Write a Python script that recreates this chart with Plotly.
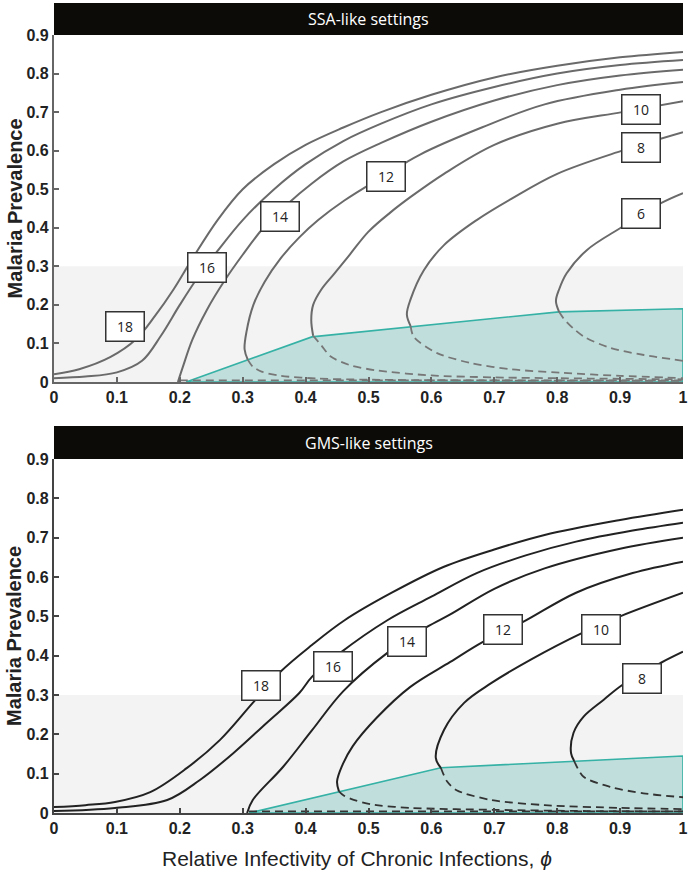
import plotly.graph_objects as go

# ---------------- DATA ----------------
x_ticks = [0, 0.1, 0.2, 0.3, 0.4, 0.5, 0.6, 0.7, 0.8, 0.9, 1]
x_tick_labels = ["0", "0.1", "0.2", "0.3", "0.4", "0.5", "0.6", "0.7", "0.8", "0.9", "1"]
y_ticks = [0, 0.1, 0.2, 0.3, 0.4, 0.5, 0.6, 0.7, 0.8, 0.9]
y_tick_labels = ["0", "0.1", "0.2", "0.3", "0.4", "0.5", "0.6", "0.7", "0.8", "0.9"]

panel_titles = ["SSA-like settings", "GMS-like settings"]
x_title = "Relative Infectivity of Chronic Infections, <i>ϕ</i>"
y_title = "Malaria Prevalence"
band_top = 0.3

# --- SSA-like (top panel) ---
ssa_labels = ["18", "16", "14", "12", "10", "8", "6"]
ssa_solid_x = {
    "18": [0, 0.04, 0.09, 0.13, 0.16, 0.19, 0.22, 0.26, 0.30, 0.35, 0.40, 0.46, 0.52, 0.6, 0.7, 0.8, 0.9, 1.0],
    "16": [0, 0.05, 0.1, 0.14, 0.17, 0.2, 0.23, 0.26, 0.3, 0.35, 0.4, 0.46, 0.52, 0.6, 0.7, 0.8, 0.9, 1.0],
    "14": [0.197, 0.205, 0.22, 0.243, 0.27, 0.3, 0.333, 0.37, 0.41, 0.46, 0.52, 0.6, 0.7, 0.8, 0.9, 1.0],
    "12": [0.308, 0.303, 0.306, 0.317, 0.335, 0.36, 0.39, 0.42, 0.461, 0.52, 0.582, 0.68, 0.78, 0.9, 1.0],
    "10": [0.412, 0.409, 0.412, 0.425, 0.445, 0.47, 0.5, 0.535, 0.567, 0.62, 0.7, 0.8, 0.903, 1.0],
    "8": [0.567, 0.561, 0.567, 0.588, 0.62, 0.672, 0.727, 0.8, 0.903, 1.0],
    "6": [0.803, 0.798, 0.803, 0.815, 0.847, 0.903, 0.965, 1.0],
}
ssa_solid_y = {
    "18": [0.02, 0.033, 0.065, 0.11, 0.17, 0.24, 0.32, 0.42, 0.50, 0.565, 0.615, 0.66, 0.70, 0.745, 0.79, 0.82, 0.842, 0.856],
    "16": [0.01, 0.014, 0.025, 0.055, 0.12, 0.2, 0.275, 0.34, 0.42, 0.5, 0.565, 0.625, 0.67, 0.72, 0.765, 0.8, 0.822, 0.835],
    "14": [0, 0.04, 0.11, 0.187, 0.26, 0.33, 0.40, 0.46, 0.515, 0.572, 0.62, 0.675, 0.73, 0.77, 0.795, 0.81],
    "12": [0.058, 0.085, 0.13, 0.2, 0.26, 0.32, 0.375, 0.42, 0.47, 0.53, 0.59, 0.66, 0.72, 0.758, 0.778],
    "10": [0.12, 0.16, 0.2, 0.24, 0.28, 0.33, 0.39, 0.44, 0.48, 0.54, 0.615, 0.67, 0.70, 0.728],
    "8": [0.145, 0.175, 0.215, 0.29, 0.355, 0.42, 0.475, 0.54, 0.60, 0.648],
    "6": [0.182, 0.21, 0.24, 0.282, 0.342, 0.402, 0.464, 0.49],
}
ssa_dash_x = {
    "12": [0.308, 0.316, 0.33, 0.36, 0.42, 0.5, 0.7, 1.0],
    "10": [0.412, 0.425, 0.44, 0.47, 0.513, 0.6, 0.7, 0.85, 1.0],
    "8": [0.567, 0.572, 0.609, 0.663, 0.727, 0.806, 0.9, 1.0],
    "6": [0.803, 0.81, 0.825, 0.843, 0.885, 0.938, 1.0],
    "0": [0.2, 1.0],
}
ssa_dash_y = {
    "12": [0.058, 0.04, 0.027, 0.016, 0.009, 0.006, 0.004, 0.003],
    "10": [0.12, 0.095, 0.066, 0.044, 0.03, 0.017, 0.012, 0.009, 0.007],
    "8": [0.145, 0.117, 0.075, 0.049, 0.033, 0.024, 0.016, 0.01],
    "6": [0.182, 0.165, 0.14, 0.117, 0.088, 0.07, 0.055],
    "0": [0.004, 0.004],
}
ssa_region_x = [0.21, 0.41, 0.803, 1.0, 1.0, 0.21]
ssa_region_y = [0, 0.117, 0.182, 0.19, 0, 0]
ssa_label_x = [0.113, 0.243, 0.359, 0.528, 0.933, 0.933, 0.933]
ssa_label_y = [0.143, 0.296, 0.43, 0.532, 0.708, 0.609, 0.436]

# --- GMS-like (bottom panel) ---
gms_labels = ["18", "16", "14", "12", "10", "8"]
gms_solid_x = {
    "18": [0, 0.05, 0.097, 0.153, 0.211, 0.264, 0.316, 0.36, 0.41, 0.462, 0.537, 0.62, 0.7, 0.78, 0.9, 1.0],
    "16": [0, 0.097, 0.18, 0.232, 0.285, 0.338, 0.39, 0.41, 0.455, 0.53, 0.6, 0.672, 0.75, 0.83, 0.92, 1.0],
    "14": [0.307, 0.316, 0.364, 0.41, 0.46, 0.53, 0.593, 0.63, 0.7, 0.78, 0.9, 1.0],
    "12": [0.453, 0.45, 0.458, 0.475, 0.513, 0.566, 0.63, 0.682, 0.745, 0.83, 0.92, 1.0],
    "10": [0.615, 0.607, 0.62, 0.652, 0.695, 0.758, 0.84, 0.9, 1.0],
    "8": [0.827, 0.822, 0.826, 0.842, 0.874, 0.904, 0.965, 1.0],
}
gms_solid_y = {
    "18": [0.015, 0.02, 0.028, 0.053, 0.114, 0.186, 0.28, 0.359, 0.427, 0.49, 0.56, 0.626, 0.67, 0.707, 0.745, 0.771],
    "16": [0.005, 0.013, 0.033, 0.084, 0.152, 0.229, 0.305, 0.346, 0.407, 0.49, 0.55, 0.61, 0.655, 0.69, 0.718, 0.738],
    "14": [0, 0.033, 0.117, 0.21, 0.31, 0.407, 0.473, 0.505, 0.57, 0.622, 0.672, 0.70],
    "12": [0.055, 0.08, 0.12, 0.17, 0.242, 0.32, 0.384, 0.435, 0.485, 0.56, 0.61, 0.639],
    "10": [0.115, 0.14, 0.211, 0.28, 0.33, 0.39, 0.458, 0.50, 0.56],
    "8": [0.132, 0.152, 0.204, 0.245, 0.288, 0.326, 0.382, 0.41],
}
gms_dash_x = {
    "12": [0.453, 0.46, 0.472, 0.504, 0.567, 0.7, 0.85, 1.0],
    "10": [0.615, 0.625, 0.64, 0.695, 0.78, 0.9, 1.0],
    "8": [0.827, 0.842, 0.885, 0.937, 1.0],
    "0": [0.31, 1.0],
}
gms_dash_y = {
    "12": [0.055, 0.045, 0.036, 0.022, 0.013, 0.008, 0.005, 0.004],
    "10": [0.115, 0.08, 0.058, 0.033, 0.02, 0.013, 0.01],
    "8": [0.132, 0.092, 0.066, 0.05, 0.04],
    "0": [0.004, 0.004],
}
gms_region_x = [0.31, 0.615, 1.0, 1.0, 0.31]
gms_region_y = [0, 0.115, 0.145, 0, 0]
gms_label_x = [0.329, 0.444, 0.561, 0.714, 0.87, 0.935]
gms_label_y = [0.323, 0.372, 0.435, 0.466, 0.466, 0.343]

# ---------------- FIGURE ----------------
W, H = 688, 884
xdom = [54 / W, 683 / W]
top_dom = [1 - 382 / H, 1 - 35 / H]
bot_dom = [1 - 813 / H, 1 - 459 / H]
top_head = [1 - 35 / H, 1 - 3 / H]
bot_head = [1 - 459 / H, 1 - 426 / H]

teal_line = "#35b1a5"
teal_fill = "rgba(150,205,200,0.55)"
label_font = dict(family="Open Sans, Lato, sans-serif", size=14, color="#222")

fig = go.Figure()

panels = [
    dict(xa="x", ya="y", sx=ssa_solid_x, sy=ssa_solid_y, dx=ssa_dash_x, dy=ssa_dash_y,
         rx=ssa_region_x, ry=ssa_region_y, labels=ssa_labels, lx=ssa_label_x, ly=ssa_label_y,
         color="#6a6a6a", dcolor="#777777"),
    dict(xa="x2", ya="y2", sx=gms_solid_x, sy=gms_solid_y, dx=gms_dash_x, dy=gms_dash_y,
         rx=gms_region_x, ry=gms_region_y, labels=gms_labels, lx=gms_label_x, ly=gms_label_y,
         color="#222222", dcolor="#333333"),
]

annotations = []
shapes = []
for i, p in enumerate(panels):
    fig.add_trace(go.Scatter(x=p["rx"], y=p["ry"], xaxis=p["xa"], yaxis=p["ya"], mode="lines",
                             fill="toself", fillcolor=teal_fill,
                             line=dict(color=teal_line, width=1.6), hoverinfo="skip", showlegend=False))
    for k in p["dx"]:
        fig.add_trace(go.Scatter(x=p["dx"][k], y=p["dy"][k], xaxis=p["xa"], yaxis=p["ya"], mode="lines",
                                 line=dict(color=p["dcolor"], width=1.8,
                                           dash="8px,5px", shape="spline", smoothing=0.8),
                                 hoverinfo="skip", showlegend=False))
    for k in p["labels"]:
        fig.add_trace(go.Scatter(x=p["sx"][k], y=p["sy"][k], xaxis=p["xa"], yaxis=p["ya"], mode="lines",
                                 line=dict(color=p["color"], width=2, shape="spline", smoothing=1.0),
                                 hoverinfo="skip", showlegend=False))
    for lab, lx, ly in zip(p["labels"], p["lx"], p["ly"]):
        annotations.append(dict(x=lx, y=ly, xref=p["xa"], yref=p["ya"], text=lab, showarrow=False,
                                xanchor="center", yanchor="middle", font=label_font,
                                bgcolor="white", bordercolor="#333", borderwidth=1.5, borderpad=2,
                                width=33, height=24))
    shapes.append(dict(type="rect", xref=p["xa"], yref=p["ya"], x0=0, x1=1, y0=0, y1=band_top,
                       fillcolor="#f3f3f3", line=dict(width=0), layer="below"))

for hd, title in zip([top_head, bot_head], panel_titles):
    shapes.append(dict(type="rect", xref="paper", yref="paper", x0=xdom[0], x1=xdom[1],
                       y0=hd[0], y1=hd[1], fillcolor="#0d0b08", line=dict(width=0)))
    annotations.append(dict(x=(xdom[0] + xdom[1]) / 2, y=(hd[0] + hd[1]) / 2, xref="paper", yref="paper",
                            text=title, showarrow=False, xanchor="center", yanchor="middle",
                            font=dict(family="Open Sans, Lato, sans-serif", size=16, color="white")))

for dom in [top_dom, bot_dom]:
    annotations.append(dict(x=14 / W, y=(dom[0] + dom[1]) / 2, xref="paper", yref="paper",
                            text="<b>" + y_title + "</b>", textangle=-90, showarrow=False,
                            xanchor="center", yanchor="middle",
                            font=dict(family="Liberation Sans, Arial, sans-serif", size=20, color="#222")))

annotations.append(dict(x=357 / W, y=1 - 858 / H, xref="paper", yref="paper", text=x_title,
                        showarrow=False, xanchor="center", yanchor="middle",
                        font=dict(family="Liberation Sans, Arial, sans-serif", size=21, color="#222")))

tickfont = dict(family="Liberation Sans, Arial, sans-serif", size=16, color="#222")
axis_common = dict(range=[0, 1], showgrid=False, zeroline=False, showline=True, linewidth=2.2,
                   ticks="inside", ticklen=5, tickwidth=1.5, fixedrange=True, automargin=False,
                   ticklabeloverflow="allow", tickfont=tickfont, tickvals=x_ticks,
                   ticktext=["<b>%s</b>" % t for t in x_tick_labels])
yaxis_common = dict(range=[0, 0.9], showgrid=False, zeroline=False, showline=True, linewidth=2.2,
                    ticks="inside", ticklen=5, tickwidth=1.5, fixedrange=True, automargin=False,
                    ticklabeloverflow="allow", tickfont=tickfont, tickvals=y_ticks,
                    ticktext=["<b>%s</b>" % t for t in y_tick_labels])

fig.update_layout(
    width=W, height=H, margin=dict(l=0, r=0, t=0, b=0, pad=0), autosize=False,
    paper_bgcolor="white", plot_bgcolor="white", showlegend=False,
    xaxis=dict(domain=xdom, anchor="y", linecolor="#666", tickcolor="#666", **axis_common),
    yaxis=dict(domain=top_dom, anchor="x", linecolor="#666", tickcolor="#666", **yaxis_common),
    xaxis2=dict(domain=xdom, anchor="y2", linecolor="#444", tickcolor="#444", **axis_common),
    yaxis2=dict(domain=bot_dom, anchor="x2", linecolor="#444", tickcolor="#444", **yaxis_common),
    annotations=annotations, shapes=shapes,
)

fig.write_html("out.html", config={"displayModeBar": False},
               post_script="document.body.style.margin='0';document.body.style.overflow='hidden';")
